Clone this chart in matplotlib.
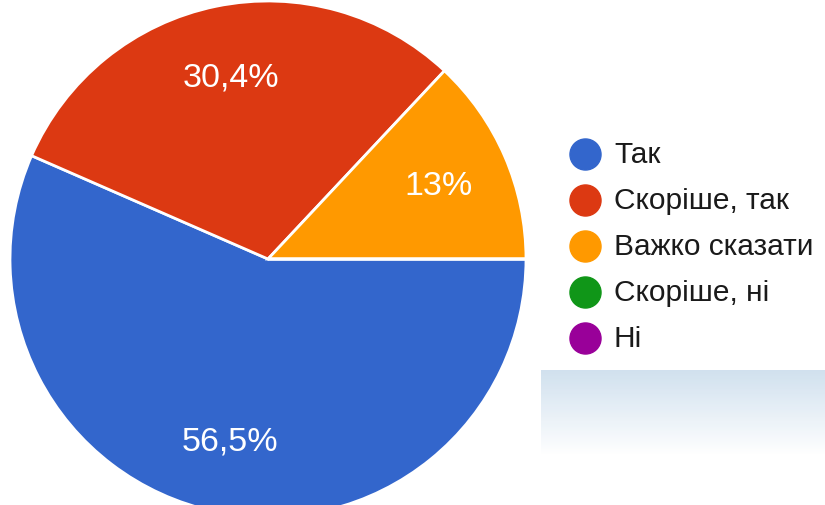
import numpy as np
import matplotlib.pyplot as plt

# answers and shares (%)
categories = ["Так", "Скоріше, так", "Важко сказати", "Скоріше, ні", "Ні"]
shares = [56.5, 30.4, 13.0, 0.0, 0.0]
colors = ["#3366CC", "#DC3912", "#FF9900", "#109618", "#990099"]

plt.rcParams['font.family'] = ['Liberation Sans', 'DejaVu Sans']

W, H = 825, 506
fig = plt.figure(figsize=(W / 100, H / 100), dpi=100)
ax = fig.add_axes([0, 0, 1, 1])

total = sum(shares)


def pct_label(p):
    v = p * total / 100
    if v < 0.5:
        return ""
    s = ("%.1f" % v).rstrip("0").rstrip(".")
    return s.replace(".", ",") + "%"


wedges, texts, autotexts = ax.pie(
    shares, colors=colors, startangle=0, counterclock=False,
    center=(268, H - 260), radius=258, autopct=pct_label, pctdistance=0.72,
    wedgeprops=dict(edgecolor="white", linewidth=2),
    textprops=dict(color="white", fontsize=24.5), frame=True)

ax.set_xlim(0, W)
ax.set_ylim(0, H)
ax.set_aspect('equal')
ax.axis('off')

# legend, drawn by hand
for i, (cat, col) in enumerate(zip(categories, colors)):
    y = H - (155 + i * 46)
    ax.scatter([585], [y], s=500, color=col, zorder=3, clip_on=False)
    ax.text(614, y, cat, fontsize=21.5, color="#1a1a1a", va="center", ha="left")

# faint leftover screenshot strip in the lower right
grad = np.linspace(0, 1, 60)[:, None] * np.ones((1, 100))
top = np.array([0.80, 0.87, 0.93])
img = top[None, None, :] * (1 - grad[..., None]) + np.ones(3)[None, None, :] * grad[..., None]
ax.imshow(img, extent=(541, 825, H - 456, H - 371), aspect='auto', zorder=0, alpha=0.9)
ax.set_xlim(0, W)
ax.set_ylim(0, H)

fig.savefig("out.png", dpi=100)
